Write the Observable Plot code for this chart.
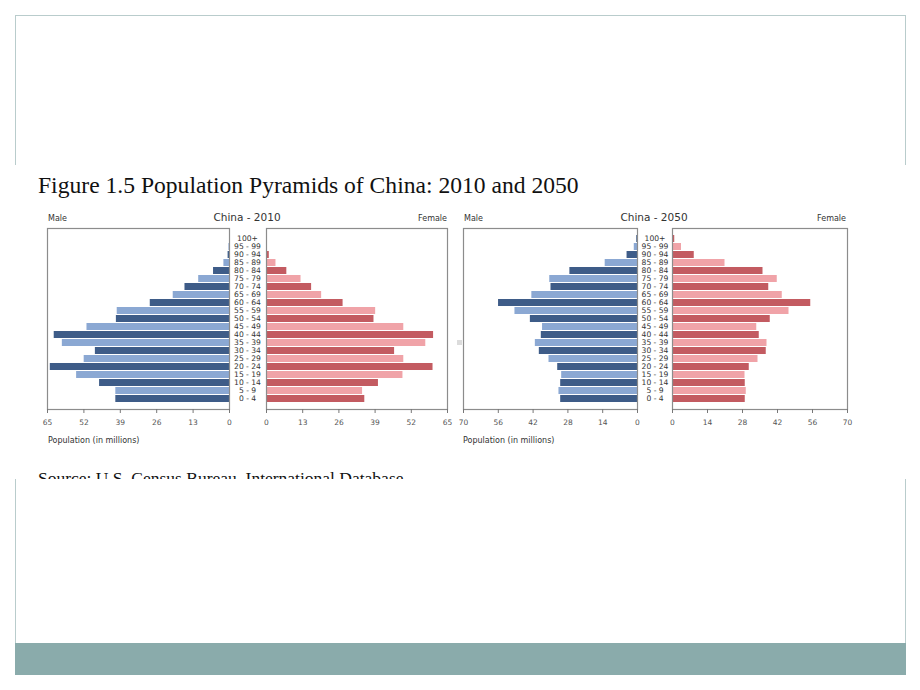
<!DOCTYPE html>
<html><head><meta charset="utf-8">
<script src="https://cdn.jsdelivr.net/npm/d3@7"></script>
<script src="https://cdn.jsdelivr.net/npm/@observablehq/plot@0.6"></script>
<style>
body{margin:0;background:#fff;width:920px;height:690px;position:relative;overflow:hidden;font-family:"DejaVu Sans",sans-serif;}
.abs{position:absolute;white-space:nowrap;}
#frame{left:15px;top:15px;width:891px;height:660px;border:1px solid #b9cccc;box-sizing:border-box;}
#teal{left:15px;top:643px;width:891px;height:32px;background:#8aabab;}
#img{left:13px;top:165px;width:895px;height:314px;background:#fff;}
.serif{font-family:"Liberation Serif","Times New Roman",serif;color:#111;}
.small{font-size:8px;line-height:10px;color:#333;}
.ttl{font-size:10.5px;line-height:13px;color:#333;text-align:center;width:120px;}
.plot{position:absolute;}
</style></head>
<body>
<div id="frame" class="abs"></div>
<div id="teal" class="abs"></div>
<div id="img" class="abs"></div>
<div class="abs serif" style="left:38px;top:172px;font-size:23.6px;line-height:26px;">Figure 1.5 Population Pyramids of China: 2010 and 2050</div>
<div class="abs" style="left:30px;top:462px;width:450px;height:17px;overflow:hidden;">
  <div class="abs serif" style="left:8px;top:8px;font-size:17.5px;line-height:17.5px;">Source: U.S. Census Bureau, International Database</div>
</div>
<div class="abs" style="left:457px;top:340px;width:5px;height:5px;background:#dcdcdc;"></div>

<div class="abs small" style="left:48px;top:214px;">Male</div>
<div class="abs ttl" style="left:187px;top:211px;">China - 2010</div>
<div class="abs small" style="left:347px;top:214px;width:100px;text-align:right;">Female</div>
<div class="abs small" style="left:48px;top:436px;">Population (in millions)</div>

<div class="abs small" style="left:464px;top:214px;">Male</div>
<div class="abs ttl" style="left:594px;top:211px;">China - 2050</div>
<div class="abs small" style="left:746px;top:214px;width:100px;text-align:right;">Female</div>
<div class="abs small" style="left:463px;top:436px;">Population (in millions)</div>

<div id="charts"></div>
<script>
const ages = ["100+","95 - 99","90 - 94","85 - 89","80 - 84","75 - 79","70 - 74","65 - 69","60 - 64","55 - 59","50 - 54","45 - 49","40 - 44","35 - 39","30 - 34","25 - 29","20 - 24","15 - 19","10 - 14","5 - 9","0 - 4"];
const male2010   = [0, 0.2, 0.5, 2.0, 5.7, 11.0, 15.9, 20.1, 28.3, 40.1, 40.4, 50.9, 62.6, 59.7, 47.9, 51.9, 64.0, 54.6, 46.4, 40.6, 40.6];
const female2010 = [0, 0.2, 1.0, 3.4, 7.3, 12.4, 16.2, 19.8, 27.5, 39.2, 38.6, 49.3, 60.0, 57.2, 46.0, 49.3, 59.8, 49.0, 40.2, 34.5, 35.3];
const male2050   = [0.3, 1.3, 4.2, 13.0, 27.2, 35.3, 34.8, 42.5, 55.9, 49.3, 43.1, 38.2, 38.7, 41.1, 39.5, 35.6, 32.1, 30.5, 30.9, 31.6, 30.9];
const female2050 = [0.9, 3.6, 8.7, 21.0, 36.2, 41.9, 38.5, 43.9, 55.3, 46.6, 39.1, 33.7, 34.7, 37.8, 37.5, 34.2, 30.7, 29.0, 29.1, 29.5, 29.1];
const ticks2010 = [0, 13, 26, 39, 52, 65];
const ticks2050 = [0, 14, 28, 42, 56, 70];
const maleColors = ["#3e5c88", "#8ba8d3"];
const femaleColors = ["#c35b61", "#f0a3a8"];

function panel({values, ticks, male, colors, left, width, ml, mr, labelDx}) {
  const data = ages.map((a, i) => ({age: a, value: values[i], shade: (ages.length - 1 - i) % 2 === 0 ? "dark" : "light"}));
  const marks = [
    Plot.barX(data, {x: "value", y: "age", fill: "shade"}),
    Plot.frame({stroke: "#8c8c8c", strokeWidth: 1.2}),
    Plot.axisX(ticks, {anchor: "bottom", tickSize: 4, tickPadding: 6, label: null, stroke: "#777", fill: "#555", fontSize: 7.5})
  ];
  if (!male) marks.push(Plot.text(data, {y: "age", text: "age", frameAnchor: "left", dx: labelDx, textAnchor: "middle", fill: "#333", fontSize: 7.6}));
  const p = Plot.plot({
    width, height: 213, marginLeft: ml, marginRight: mr, marginTop: 2, marginBottom: 30,
    x: {domain: [0, ticks[ticks.length - 1]], reverse: male, axis: null},
    y: {domain: ages, paddingInner: 0.08, paddingOuter: 0.04, axis: null},
    color: {domain: ["dark", "light"], range: colors},
    style: {fontFamily: "DejaVu Sans", fontSize: "7.5px", background: "transparent", overflow: "visible"},
    marks
  });
  p.classList.add("plot");
  p.style.left = left + "px";
  p.style.top = "226px";
  document.getElementById("charts").appendChild(p);
}
panel({values: male2010, ticks: ticks2010, male: true, colors: maleColors, left: 37, width: 198, ml: 10, mr: 6});
panel({values: female2010, ticks: ticks2010, male: false, colors: femaleColors, left: 221, width: 234, ml: 45, mr: 8, labelDx: -19});
panel({values: male2050, ticks: ticks2050, male: true, colors: maleColors, left: 453, width: 190, ml: 10, mr: 6});
panel({values: female2050, ticks: ticks2050, male: false, colors: femaleColors, left: 627, width: 228, ml: 45, mr: 8, labelDx: -17.5});
</script>
</body></html>
